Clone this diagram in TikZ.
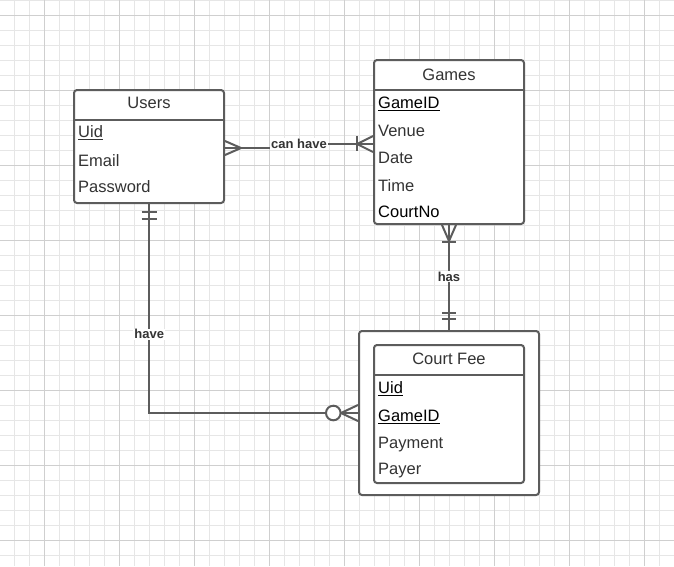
\documentclass[tikz,border=0pt]{standalone}
\usepackage{fontspec}
\setmainfont{Liberation Sans}
\usetikzlibrary{calc}
\definecolor{gridminor}{HTML}{E6E6E6}
\definecolor{gridmajor}{HTML}{CFCFCF}
\definecolor{linec}{HTML}{5C5C5C}
\definecolor{textc}{HTML}{333333}
\tikzset{
  entity/.style={draw=linec, line width=2pt, rounded corners=3pt, fill=white, inner sep=0pt},
  ttl/.style={anchor=base, text=textc, inner sep=0pt, font=\fontsize{16.5}{18}\selectfont},
  field/.style={anchor=base west, text=textc, inner sep=0pt, font=\fontsize{16.5}{18}\selectfont},
  keyfield/.style={field, text=black},
  conn/.style={draw=linec, line width=2pt},
  rel/.style={text=textc, fill=white, inner sep=1pt, font=\fontsize{13}{15}\selectfont\bfseries},
  sep/.style={draw=linec, line width=2pt}
}
\begin{document}
\begin{tikzpicture}[x=1pt,y=-1pt]
\useasboundingbox (0,0) rectangle (674,566);
\fill[white] (0,0) rectangle (674,566);
% grid
\foreach \i in {0,...,44} {
  \draw[gridminor, line width=0.8pt] ({14.3+15*\i},0) -- ({14.3+15*\i},566);
}
\foreach \i in {0,...,37} {
  \draw[gridminor, line width=0.8pt] (0,{15*\i}) -- (674,{15*\i});
}
\foreach \i in {0,...,8} {
  \draw[gridmajor, line width=0.8pt] ({44.3+75*\i},0) -- ({44.3+75*\i},566);
}
\foreach \i in {0,...,7} {
  \draw[gridmajor, line width=0.8pt] (0,{15+75*\i}) -- (674,{15+75*\i});
}

% Users
\node[entity, minimum width=150pt, minimum height=113pt] (users) at (149,146.5) {};
\draw[sep] (users.west |- 0,120) -- (users.east |- 0,120);
\node[ttl] (usersT) at (149,108.7) {Users};
\node[field] (uUid) at (78,137.7) {\underline{Uid}};
\node[field] (uEmail) at (78,166) {Email};
\node[field] (uPwd) at (78,192.7) {Password};

% Games
\node[entity, minimum width=150pt, minimum height=164pt] (games) at (449,142) {};
\draw[sep] (games.west |- 0,90) -- (games.east |- 0,90);
\node[ttl] (gamesT) at (449,80) {Games};
\node[keyfield] (gId) at (378,108.3) {\underline{GameID}};
\node[field] (gVenue) at (378,136) {Venue};
\node[field] (gDate) at (378,163.3) {Date};
\node[field] (gTime) at (378,191) {Time};
\node[keyfield] (gCourt) at (378,217.7) {CourtNo};

% Court Fee
\node[entity, minimum width=180pt, minimum height=164pt] (fee) at (449,413) {};
\node[entity, minimum width=150pt, minimum height=138pt] (feein) at (449,414) {};
\draw[sep] (feein.west |- 0,375) -- (feein.east |- 0,375);
\node[ttl] (feeT) at (449,364.3) {Court Fee};
\node[keyfield] (fUid) at (378,393.3) {\underline{Uid}};
\node[keyfield] (fGame) at (378,421.7) {\underline{GameID}};
\node[field] (fPay) at (378,448.3) {Payment};
\node[field] (fPayer) at (378,474.3) {Payer};

% connector: can have
\coordinate (u1) at ([yshift=-1.5pt]users.east);
\coordinate (g1) at ([yshift=-2pt]games.west);
\draw[conn] (u1) -- (u1 -| 299,0) -- (g1 -| 299,0) -- (g1);
\draw[conn] ($(u1)+(0,-7)$) -- ($(u1)+(16,0)$) -- ($(u1)+(0,7)$);
\draw[conn] ($(g1)+(0,-8)$) -- ($(g1)+(-16,0)$) -- ($(g1)+(0,8)$);
\draw[conn] ($(g1)+(-16,-8)$) -- ($(g1)+(-16,7)$);
\node[rel] (lblCan) at (299,144) {can have};

% connector: has
\draw[conn] (games.south) -- (fee.north);
\draw[conn] ($(games.south)+(-7,0)$) -- ($(games.south)+(0,16)$) -- ($(games.south)+(7,0)$);
\draw[conn] ($(games.south)+(-7,16.5)$) -- ($(games.south)+(7,16.5)$);
\draw[conn] ($(fee.north)+(-7,-17)$) -- ($(fee.north)+(7,-17)$);
\draw[conn] ($(fee.north)+(-7,-11)$) -- ($(fee.north)+(7,-11)$);
\node[rel] (lblHas) at (449,276.7) {has};

% connector: have
\draw[conn] (users.south) |- (fee.west);
\draw[conn] ($(users.south)+(-7.5,8)$) -- ($(users.south)+(7.5,8)$);
\draw[conn] ($(users.south)+(-7.5,14.5)$) -- ($(users.south)+(7.5,14.5)$);
\draw[conn] ($(fee.west)+(0,-8)$) -- ($(fee.west)+(-17,0)$) -- ($(fee.west)+(0,8)$);
\draw[conn, fill=white] ($(fee.west)+(-24.7,0)$) circle (7.3pt);
\node[rel] (lblHave) at (149.3,334.3) {have};
\end{tikzpicture}
\end{document}
